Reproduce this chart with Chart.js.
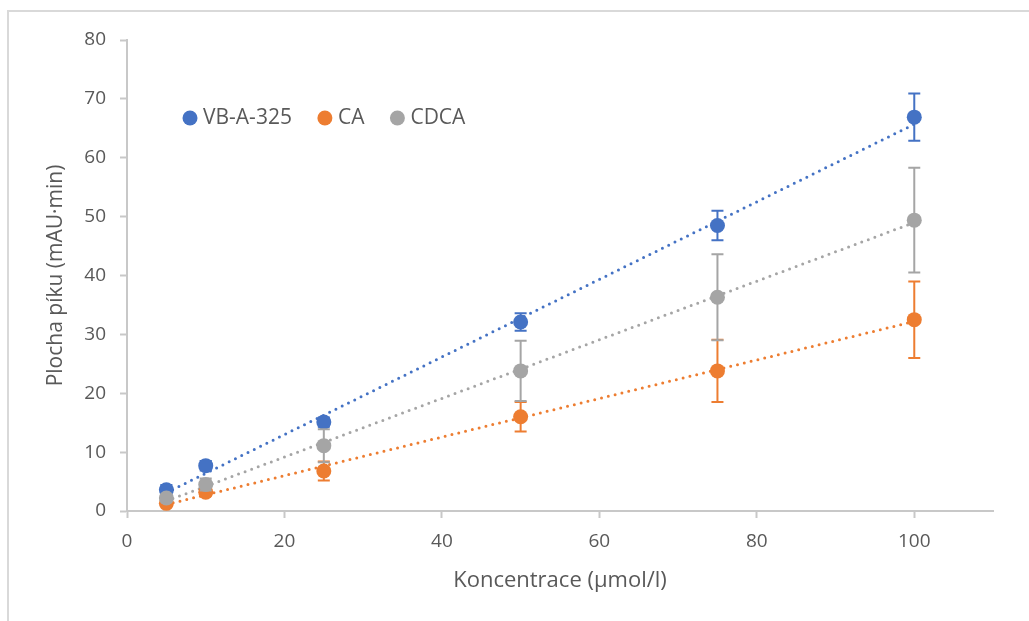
<!DOCTYPE html>
<html>
<head>
<meta charset="utf-8">
<script src="https://cdn.jsdelivr.net/npm/chart.js@4.4.1/dist/chart.umd.min.js"></script>
<style>
html,body{margin:0;padding:0;background:#fff;}
#wrap{width:1029px;height:621px;position:relative;}
</style>
</head>
<body>
<div id="wrap"><canvas id="c" width="1029" height="621"></canvas></div>
<script>
// ---- data ----
const xValues = [5, 10, 25, 50, 75, 100];
const seriesNames = ['VB-A-325', 'CA', 'CDCA'];
const vbValues = [3.6, 7.7, 15.1, 32.1, 48.5, 66.9];
const caValues = [1.3, 3.2, 6.8, 16.0, 23.8, 32.5];
const cdcaValues = [2.2, 4.5, 11.1, 23.8, 36.3, 49.4];
const vbErrors = [0.8, 0.8, 0.8, 1.5, 2.5, 4.0];
const caErrors = [0.5, 0.6, 1.6, 2.5, 5.3, 6.5];
const cdcaErrors = [0.6, 1.0, 2.8, 5.1, 7.3, 8.9];
const trendX = [5, 100];
const vbTrend = [3.1, 65.7];
const caTrend = [1.1, 32.2];
const cdcaTrend = [1.7, 49.0];
const yTicks = [0, 10, 20, 30, 40, 50, 60, 70, 80];
const xTicks = [0, 20, 40, 60, 80, 100];
const xTitle = 'Koncentrace (µmol/l)';
const yTitle = 'Plocha píku (mAU·min)';

const colors = ['#4472C4', '#ED7D31', '#A5A5A5'];
const FONT = '"Open Sans", "Noto Sans", sans-serif';
const TXT = '#595959';

function pts(xs, ys) { return xs.map((x, i) => ({x: x, y: ys[i]})); }

const seriesVals = [vbValues, caValues, cdcaValues];
const seriesErr = [vbErrors, caErrors, cdcaErrors];
const trends = [vbTrend, caTrend, cdcaTrend];

const datasets = [];
seriesNames.forEach((name, i) => {
  datasets.push({
    type: 'line',
    label: name + ' trend',
    data: pts(trendX, trends[i]),
    borderColor: colors[i],
    borderWidth: 3,
    borderDash: [0, 7],
    borderCapStyle: 'round',
    pointRadius: 0,
    fill: false,
    order: 10 + (3 - i)
  });
});
seriesNames.forEach((name, i) => {
  datasets.push({
    type: 'scatter',
    label: name,
    data: pts(xValues, seriesVals[i]),
    backgroundColor: colors[i],
    borderColor: colors[i],
    pointRadius: 7.5,
    pointBorderWidth: 0,
    showLine: false,
    order: 3 - i,
    errors: seriesErr[i]
  });
});

const errorBars = {
  id: 'errorBars',
  beforeDatasetDraw(chart, args) {
    const ds = chart.data.datasets[args.index];
    if (!ds.errors) return;
    const ctx = chart.ctx, xs = chart.scales.x, ys = chart.scales.y;
    ctx.save();
    ctx.strokeStyle = ds.borderColor;
    ctx.lineWidth = 2;
    ds.data.forEach((p, j) => {
      const e = ds.errors[j];
      const px = xs.getPixelForValue(p.x);
      const top = ys.getPixelForValue(p.y + e);
      const bot = ys.getPixelForValue(p.y - e);
      ctx.beginPath();
      ctx.moveTo(px, top); ctx.lineTo(px, bot);
      ctx.moveTo(px - 6, top); ctx.lineTo(px + 6, top);
      ctx.moveTo(px - 6, bot); ctx.lineTo(px + 6, bot);
      ctx.stroke();
    });
    ctx.restore();
  }
};

const frameAndLegend = {
  id: 'frameAndLegend',
  beforeDraw(chart) {
    const ctx = chart.ctx;
    ctx.save();
    ctx.fillStyle = '#fff';
    ctx.fillRect(0, 0, chart.width, chart.height);
    ctx.strokeStyle = '#D9D9D9';
    ctx.lineWidth = 2;
    ctx.beginPath();
    ctx.moveTo(8, chart.height);
    ctx.lineTo(8, 11);
    ctx.lineTo(chart.width, 11);
    ctx.stroke();
    ctx.restore();
  },
  afterDraw(chart) {
    const ctx = chart.ctx;
    ctx.save();
    ctx.font = '21px ' + FONT;
    ctx.textBaseline = 'middle';
    ctx.textAlign = 'left';
    let x = 190;
    const y = 118;
    seriesNames.forEach((name, i) => {
      ctx.fillStyle = colors[i];
      ctx.beginPath();
      ctx.arc(x, y, 7.5, 0, Math.PI * 2);
      ctx.fill();
      ctx.fillStyle = TXT;
      ctx.fillText(name, x + 13, y);
      x += 13 + ctx.measureText(name).width + 33;
    });
    ctx.restore();
  }
};

new Chart(document.getElementById('c'), {
  type: 'scatter',
  data: { datasets: datasets },
  plugins: [errorBars, frameAndLegend],
  options: {
    responsive: false,
    animation: false,
    events: [],
    layout: { padding: { left: 0, top: 40, right: 36, bottom: 0 } },
    plugins: { legend: { display: false }, tooltip: { enabled: false } },
    scales: {
      x: {
        type: 'linear',
        min: 0, max: 110,
        afterFit(s) { s.height = 110; },
        afterBuildTicks(s) { s.ticks = xTicks.map(v => ({value: v})); },
        ticks: { color: TXT, font: { family: FONT, size: 19 }, padding: 12 },
        grid: { display: true, drawOnChartArea: false, drawTicks: true, tickLength: 7, tickColor: '#C8C8C8', tickWidth: 2 },
        border: { display: true, color: '#C8C8C8', width: 2 },
        title: { display: true, text: xTitle, color: TXT, font: { family: FONT, size: 22 }, padding: { top: 0, bottom: 27 } }
      },
      y: {
        type: 'linear',
        min: 0, max: 80,
        afterFit(s) { s.width = 127; },
        afterBuildTicks(s) { s.ticks = yTicks.map(v => ({value: v})); },
        ticks: { color: TXT, font: { family: FONT, size: 19 }, padding: 14 },
        grid: { display: true, drawOnChartArea: false, drawTicks: true, tickLength: 7, tickColor: '#C8C8C8', tickWidth: 2 },
        border: { display: true, color: '#C8C8C8', width: 2 },
        title: { display: true, text: yTitle, color: TXT, font: { family: FONT, size: 21 }, padding: { top: 43, bottom: 0 } }
      }
    }
  }
});
</script>
</body>
</html>
